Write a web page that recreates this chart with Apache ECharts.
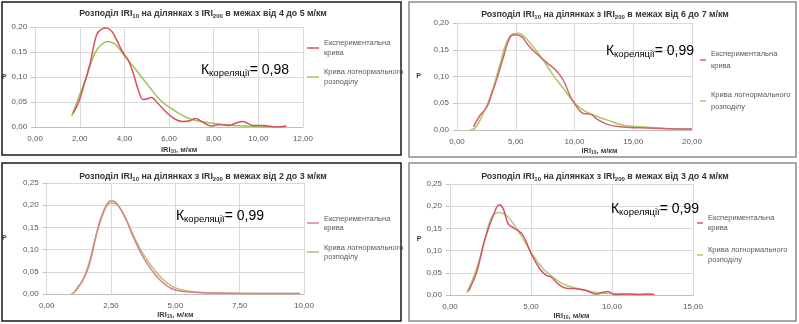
<!DOCTYPE html>
<html><head><meta charset="utf-8">
<script src="https://cdn.jsdelivr.net/npm/echarts@6/dist/echarts.min.js"></script>
<style>html,body{margin:0;padding:0;background:#fff}#c{width:799px;height:324px}</style>
</head><body><div id="c"></div>
<script>
// ---- data ----
const seriesNames = ['Експериментальна крива', 'Крива логнормального розподілу'];
const titleRanges = ['4 до 5', '6 до 7', '2 до 3', '3 до 4'];
const correlations = ['0,98', '0,99', '0,99', '0,99'];

// Panel 1: IRI200 4..5
const p1ExpX = [1.7, 1.95, 2.16, 2.46, 2.76, 3.0, 3.17, 3.35, 3.5, 3.75, 3.95, 4.17, 4.4, 4.62, 4.84, 5.0, 5.2, 5.5, 5.8, 6.04, 6.3, 6.6, 6.9, 7.2, 7.5, 7.9, 8.27, 8.7, 9.0, 9.3, 9.76, 10.2, 10.8, 11.25];
const p1ExpY = [0.027, 0.05, 0.08, 0.127, 0.185, 0.196, 0.198, 0.195, 0.187, 0.165, 0.148, 0.134, 0.107, 0.074, 0.055, 0.056, 0.059, 0.047, 0.033, 0.023, 0.015, 0.011, 0.012, 0.017, 0.01, 0.002, 0.005, 0.003, 0.008, 0.011, 0.003, 0.003, 0.0, 0.002];
const p1LogX = [1.64, 2.0, 2.3, 2.55, 2.76, 3.0, 3.23, 3.45, 3.65, 4.02, 4.4, 5.0, 5.6, 6.2, 6.9, 7.7, 8.87, 10.06, 11.25];
const p1LogY = [0.022, 0.065, 0.1, 0.134, 0.154, 0.166, 0.171, 0.169, 0.163, 0.141, 0.121, 0.087, 0.054, 0.034, 0.017, 0.009, 0.003, 0.001, 0.0];

// Panel 2: IRI200 6..7
const p2ExpX = [1.4, 1.98, 2.55, 3.0, 3.4, 3.96, 4.53, 4.95, 5.52, 6.08, 6.8, 7.64, 8.49, 9.05, 9.62, 10.18, 10.75, 11.32, 11.88, 12.73, 13.86, 15.56, 17.8, 20.0];
const p2ExpY = [0.006, 0.028, 0.043, 0.07, 0.096, 0.137, 0.174, 0.178, 0.174, 0.158, 0.142, 0.126, 0.11, 0.093, 0.064, 0.044, 0.031, 0.03, 0.021, 0.011, 0.006, 0.004, 0.0025, 0.002];
const p2LogX = [1.1, 1.5, 1.98, 2.83, 3.68, 4.24, 4.8, 5.23, 5.8, 6.5, 7.36, 8.2, 9.05, 9.9, 10.75, 11.6, 12.73, 14.14, 15.56, 17.8, 20.0];
const p2LogY = [0.0, 0.003, 0.019, 0.062, 0.124, 0.165, 0.18, 0.181, 0.173, 0.155, 0.13, 0.102, 0.078, 0.053, 0.037, 0.028, 0.019, 0.009, 0.006, 0.003, 0.002];

// Panel 3: IRI200 2..3
const p3ExpX = [1.05, 1.2, 1.4, 1.66, 1.98, 2.24, 2.5, 2.69, 3.02, 3.4, 3.79, 4.3, 4.82, 5.46, 6.5, 8.0, 9.85];
const p3ExpY = [0.002, 0.015, 0.03, 0.071, 0.146, 0.191, 0.21, 0.206, 0.176, 0.124, 0.079, 0.038, 0.013, 0.005, 0.002, 0.001, 0.001];
const p3LogX = [0.95, 1.15, 1.6, 1.98, 2.31, 2.5, 2.76, 3.08, 3.47, 3.92, 4.43, 4.95, 5.72, 6.75, 8.0, 9.85];
const p3LogY = [0.0, 0.008, 0.056, 0.143, 0.196, 0.205, 0.2, 0.169, 0.12, 0.075, 0.038, 0.015, 0.005, 0.002, 0.001, 0.001];

// Panel 4: IRI200 3..4
const p4ExpX = [1.13, 1.64, 2.16, 2.67, 3.04, 3.29, 3.59, 3.9, 4.21, 4.52, 5.03, 5.54, 5.95, 6.26, 6.67, 7.19, 7.8, 8.42, 9.03, 9.45, 9.75, 10.16, 10.88, 11.7, 12.2, 12.63];
const p4ExpY = [0.008, 0.051, 0.126, 0.179, 0.203, 0.194, 0.16, 0.152, 0.145, 0.134, 0.092, 0.059, 0.044, 0.04, 0.025, 0.015, 0.014, 0.01, 0.002, 0.006, 0.008, 0.001, 0.002, 0.001, 0.002, 0.001];
const p4LogX = [1.03, 1.64, 2.16, 2.57, 3.04, 3.49, 4.0, 4.52, 5.13, 5.75, 6.37, 6.98, 7.8, 8.62, 9.65, 10.88, 12.5];
const p4LogY = [0.005, 0.059, 0.126, 0.175, 0.186, 0.179, 0.156, 0.126, 0.089, 0.059, 0.04, 0.025, 0.015, 0.008, 0.004, 0.002, 0.001];

const xMax = [12, 20, 10, 15];
const xStep = [2, 5, 2.5, 5];
const yMax = [0.20, 0.20, 0.25, 0.25];
const yStep = [0.05, 0.05, 0.05, 0.05];

// ---- layout / style ----
const FONT = '"Liberation Sans",sans-serif';
const layout = [
  {plot: [35, 27, 303, 127], frame: [2, 2, 401, 155], dark: true,  title: [203, 14], ann: [245, 70], leg: {x: 307, y: 38, w: 12, lh: 10, gap: 9}, xNameY: 18, xPad: 20, yGap: 27},
  {plot: [457, 23, 692, 130], frame: [409, 2, 796, 157], dark: false, title: [605, 15], ann: [650, 51], leg: {x: 700, y: 48, w: 6, lh: 12, gap: 17}, xNameY: 16, xPad: 50, yGap: 36},
  {plot: [45, 183, 304, 294], frame: [2, 163, 401, 321], dark: true,  title: [203, 177], ann: [220, 216], leg: {x: 307, y: 214, w: 12, lh: 9, gap: 11}, xNameY: 10, xPad: 0, yGap: 40},
  {plot: [450, 184, 693, 295], frame: [409, 163, 796, 321], dark: false, title: [605, 177], ann: [655, 209], leg: {x: 697, y: 213, w: 6, lh: 10, gap: 12}, xNameY: 13, xPad: 0, yGap: 17}
];
const redColors = ['#D8525C', '#D2646C', '#D9848C', '#D4545E'];
const greenColors = ['#9CC459', '#A9C865', '#BDB878', '#B2CB78'];
const data = [
  [p1ExpX, p1ExpY, p1LogX, p1LogY],
  [p2ExpX, p2ExpY, p2LogX, p2LogY],
  [p3ExpX, p3ExpY, p3LogX, p3LogY],
  [p4ExpX, p4ExpY, p4LogX, p4LogY]
];
const fmt = v => v.toFixed(2).replace('.', ',');
const zip = (xs, ys) => xs.map((x, i) => [x, ys[i]]);
const wrap = n => { const k = n.lastIndexOf(' '); return n.slice(0, k) + '\n' + n.slice(k + 1); };

const grid = [], xAxis = [], yAxis = [], series = [], legend = [], graphic = [];
layout.forEach((L, i) => {
  const [l, t, r, b] = L.plot;
  grid.push({left: l, top: t, width: r - l, height: b - t});
  xAxis.push({
    type: 'value', gridIndex: i, min: 0, max: xMax[i], interval: xStep[i],
    axisLine: {show: true, lineStyle: {color: '#BFBFBF'}},
    axisTick: {show: false},
    splitLine: {show: true, lineStyle: {color: '#D9D9D9'}},
    axisLabel: {formatter: fmt, fontFamily: FONT, fontSize: 8, color: '#595959', margin: 8},
    name: '{b|IRI}{s|10}{b|, м/км}', nameLocation: 'middle', nameGap: L.xNameY,
    nameTextStyle: {padding: [0, 0, 0, L.xPad], rich: {
      b: {fontFamily: FONT, fontSize: 7.5, fontWeight: 'bold', color: '#404040'},
      s: {fontFamily: FONT, fontSize: 5, fontWeight: 'bold', color: '#404040', padding: [4, 0, 0, 0]}
    }}
  });
  yAxis.push({
    type: 'value', gridIndex: i, min: 0, max: yMax[i], interval: yStep[i],
    axisLine: {show: true, lineStyle: {color: '#D9D9D9'}},
    axisTick: {show: true, length: 4, lineStyle: {color: '#BFBFBF'}},
    splitLine: {show: true, lineStyle: {color: '#D9D9D9'}},
    axisLabel: {formatter: fmt, fontFamily: FONT, fontSize: 8, color: '#595959', margin: 8},
    name: 'P', nameLocation: 'middle', nameRotate: 0, nameGap: L.yGap,
    nameTextStyle: {fontFamily: FONT, fontSize: 7, fontWeight: 'bold', color: '#404040'}
  });
  const d = data[i];
  series.push({
    type: 'line', name: seriesNames[0], xAxisIndex: i, yAxisIndex: i, data: zip(d[0], d[1]),
    smooth: 0.4, showSymbol: false, symbol: 'none', lineStyle: {width: 1.5, color: redColors[i]}, itemStyle: {color: redColors[i]}, z: 3
  });
  series.push({
    type: 'line', name: seriesNames[1], xAxisIndex: i, yAxisIndex: i, data: zip(d[2], d[3]),
    smooth: 0.4, showSymbol: false, symbol: 'none', lineStyle: {width: 1.5, color: greenColors[i]}, itemStyle: {color: greenColors[i]}, z: 2
  });
  legend.push({
    orient: 'vertical', left: L.leg.x, top: L.leg.y, itemGap: L.leg.gap, padding: 0,
    icon: 'rect', itemWidth: L.leg.w, itemHeight: 1.5, selectedMode: false,
    data: [{name: seriesNames[0], itemStyle: {color: redColors[i]}}, {name: seriesNames[1], itemStyle: {color: greenColors[i]}}],
    formatter: wrap,
    textStyle: {fontFamily: FONT, fontSize: 7.5, color: '#595959', lineHeight: L.leg.lh}
  });
  // panel frame
  const [fx0, fy0, fx1, fy1] = L.frame;
  graphic.push({type: 'rect', shape: {x: fx0, y: fy0, width: fx1 - fx0, height: fy1 - fy0},
    style: {fill: 'none', stroke: L.dark ? '#1a1a1a' : '#8a8a8a', lineWidth: 1.5}, z: 10});
  // title
  graphic.push({type: 'text', x: L.title[0], y: L.title[1], style: {
    text: '{t|Розподіл IRI}{s|10}{t| на ділянках з IRI}{s|200}{t| в межах від ' + titleRanges[i] + ' м/км}',
    align: 'center', verticalAlign: 'middle',
    rich: {t: {fontFamily: FONT, fontSize: 8.8, fontWeight: 'bold', fill: '#333'},
           s: {fontFamily: FONT, fontSize: 6, fontWeight: 'bold', fill: '#333', padding: [5, 0, 0, 0]}}
  }, z: 11});
  // correlation annotation
  graphic.push({type: 'text', x: L.ann[0], y: L.ann[1], style: {
    text: '{a|К}{b|кореляції}{a|= ' + correlations[i] + '}',
    align: 'center', verticalAlign: 'middle',
    rich: {a: {fontFamily: FONT, fontSize: 14, fill: '#000'},
           b: {fontFamily: FONT, fontSize: 9.5, fill: '#000', padding: [6, 0, 0, 0]}}
  }, z: 11});
});

const chart = echarts.init(document.getElementById('c'), null, {renderer: 'canvas'});
chart.setOption({animation: false, backgroundColor: '#fff', grid, xAxis, yAxis, series, legend, graphic});
</script></body></html>
